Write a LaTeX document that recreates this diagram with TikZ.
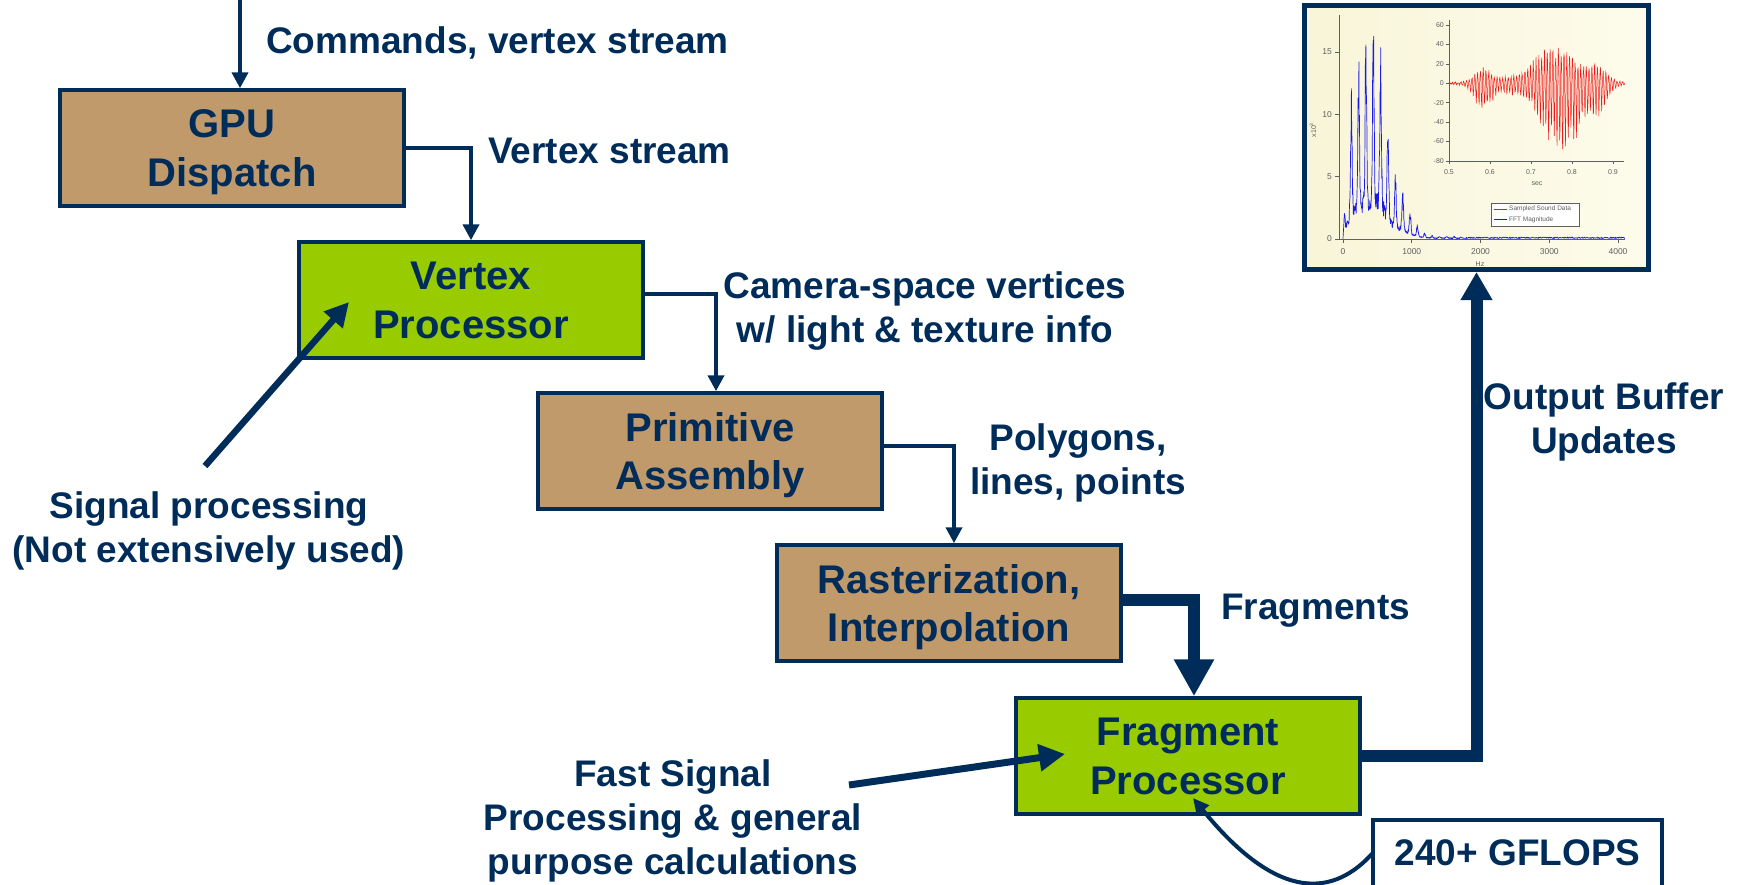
\documentclass[tikz,border=0pt]{standalone}
\usepackage{fontspec}
\setmainfont{Liberation Sans}
\usetikzlibrary{arrows.meta}
\definecolor{navy}{RGB}{0,44,90}
\definecolor{boxbrown}{RGB}{192,154,107}
\definecolor{boxgreen}{RGB}{153,204,0}
\definecolor{fftblue}{RGB}{25,25,235}
\definecolor{wavered}{RGB}{240,25,25}
\definecolor{axisgray}{RGB}{95,95,95}
\definecolor{plotbgA}{RGB}{248,245,216}
\definecolor{plotbgB}{RGB}{253,252,236}
\begin{document}
\begin{tikzpicture}[x=1pt,y=-1pt,
  declare function={
    mysq(\qx)=\qx*\qx;
    myex(\qx)=exp(-min(\qx,9));
    myenv(\qf)=1.2*(13.5*myex(mysq(mysq((\qf-330)/300)))+5*myex(mysq((\qf-700)/280))+0.15);
    myhc(\qf)=mysq(cos(1.68224*(\qf-12)));
    myfv(\qf)=(1-myex(\qf/30))*myenv(\qf)*(0.2+0.8*mysq(mysq(myhc(\qf))))*(0.6+0.4*rnd)+0.08*rnd;
    mygs(\qx,\qm,\qs)=myex(mysq((\qx-\qm)/\qs));
    mype(\qt)=17*mygs(\qt,0.585,0.03)+5*mygs(\qt,0.645,0.02)+40*mygs(\qt,0.76,0.075)+14*mygs(\qt,0.865,0.03)+1;
    myne(\qt)=30*mygs(\qt,0.585,0.03)+8*mygs(\qt,0.645,0.02)+72*mygs(\qt,0.775,0.075)+18*mygs(\qt,0.87,0.025)+1;
    mysw(\qp)=sin(360*frac(\qp));
    mywv(\qp)=ifthenelse(mysw(\qp)>0,mype(0.5+0.0068*\qp),myne(0.5+0.0068*\qp))*mysw(\qp)*(0.55+0.45*rnd)+1.2*rnd-0.6;
  },
  box/.style={draw=navy, line width=3.5pt, minimum width=344pt, minimum height=116pt,
    align=center, text=navy, font=\fontsize{40}{48.5}\selectfont\bfseries, inner sep=0pt,
    text depth=0pt},
  brownbox/.style={box, fill=boxbrown},
  greenbox/.style={box, fill=boxgreen},
  lbl/.style={text=navy, font=\fontsize{37}{44.4}\selectfont\bfseries, align=center, inner sep=0pt},
  conn/.style={draw=navy, line width=4pt, -{Triangle[width=16pt,length=16pt]}},
  fatconn/.style={draw=navy, line width=12pt, -{Triangle[width=38pt,length=37pt]}},
  outconn/.style={draw=navy, line width=12pt, -{Triangle[width=30pt,length=28pt]}},
  sigarrow/.style={draw=navy, line width=6.5pt, -{Triangle[width=24pt,length=24pt]}},
  fastarrow/.style={draw=navy, line width=7pt, -{Triangle[width=26pt,length=26pt]}},
  curvearrow/.style={draw=navy, line width=4pt, -{Triangle[width=15pt,length=16pt]}},
  axis/.style={draw=axisgray, line width=0.8pt},
  ticklbl/.style={text=axisgray, font=\fontsize{8.5}{10}\selectfont, inner sep=0pt},
  smalllbl/.style={text=axisgray, font=\fontsize{7}{8}\selectfont, inner sep=0pt},
]
\useasboundingbox (0,0) rectangle (1741,884);

% ---------------- plot picture ----------------
\node[draw=navy, line width=5pt, left color=plotbgA, right color=plotbgB,
      minimum width=344pt, minimum height=264pt, inner sep=0pt] (plot) at (1476.5,137.5) {};

% main FFT axes
\draw[axis] (1339,15) -- (1339,239) -- (1625,239);
\foreach \v in {0,5,10,15} {
  \draw[axis] (1335,{239-12.46*\v}) -- (1339,{239-12.46*\v});
  \node[ticklbl, anchor=east] at (1332,{239-12.46*\v}) {\v};
}
\foreach \k/\l in {0/0,1/1000,2/2000,3/3000,4/4000} {
  \draw[axis] ({1343+68.75*\k},239) -- ({1343+68.75*\k},243);
  \node[ticklbl] at ({1343+68.75*\k},252) {\l};
}
\node[smalllbl] (hz) at (1480,264) {Hz};
\node[smalllbl, rotate=90] (xten) at (1313,130) {x10\textsuperscript{3}};

\pgfmathsetseed{7}
\draw[fftblue, line width=0.7pt, line join=round]
  plot[domain=0:1700, samples=420, variable=\ff] ({1343+0.06875*\ff},{239-12.46*myfv(\ff)})
  -- plot[domain=1700:4100, samples=300, variable=\ff] ({1343+0.06875*\ff},{239-12.46*(0.04+0.12*rnd)});

% inset axes
\draw[axis] (1449,20) -- (1449,161) -- (1624,161);
\foreach \v in {60,40,20,0,-20,-40,-60,-80} {
  \draw[axis] (1446,{83.3-0.97*\v}) -- (1449,{83.3-0.97*\v});
  \node[smalllbl, anchor=east] at (1444,{83.3-0.97*\v}) {\v};
}
\foreach \t/\l in {0/0.5,1/0.6,2/0.7,3/0.8,4/0.9} {
  \draw[axis] ({1449+41*\t},161) -- ({1449+41*\t},164);
  \node[smalllbl] at ({1449+41*\t},172) {\l};
}
\node[smalllbl] (sec) at (1537,184) {sec};

\draw[wavered, line width=0.5pt]
  plot[domain=0:63, samples=560, variable=\pp] ({1449+2.788*\pp},{83.3-0.97*mywv(\pp)});

% legend
\node[draw=axisgray, fill=white, line width=0.5pt, minimum width=88pt, minimum height=23pt, inner sep=0pt] (leg) at (1535,214.5) {};
\draw[wavered, line width=0.8pt] (1494,209) -- (1507,209);
\draw[fftblue, line width=0.8pt] (1494,219.5) -- (1507,219.5);
\node[smalllbl, anchor=west, font=\fontsize{6.5}{7}\selectfont] (legA) at (1509,209) {Sampled Sound Data};
\node[smalllbl, anchor=west, font=\fontsize{6.5}{7}\selectfont] (legB) at (1509,219.5) {FFT Magnitude};

% ---------------- pipeline boxes ----------------
\node[brownbox] (gpu) at (232,148) {GPU\\Dispatch};
\node[greenbox] (vp) at (471,300) {Vertex\\Processor};
\node[brownbox] (pa) at (710,451) {Primitive\\Assembly};
\node[brownbox] (ra) at (949,603) {Rasterization,\\Interpolation};
\node[greenbox] (fp) at (1188,756) {Fragment\\Processor};

% labels
\node[lbl, anchor=west] (cmd) at (266,43) {Commands, vertex stream};
\node[lbl, anchor=west] (vs) at (488,150.5) {Vertex stream};
\node[lbl] (cam) at (925,311) {Camera-space vertices\\w/ light \& texture info};
\node[lbl] (poly) at (1078,463) {Polygons,\\lines, points};
\node[lbl, anchor=west] (frag) at (1221,611) {Fragments};
\node[lbl] (obu) at (1604,422) {Output Buffer\\Updates};
\node[lbl] (sig) at (209,531) {Signal processing\\(Not extensively used)};
\node[lbl] (fast) at (673,821) {Fast Signal\\Processing \& general\\purpose calculations};

% GFLOPS box
\node[lbl, minimum width=289pt, minimum height=66pt] (gf) at (1517.5,853) {240+ GFLOPS};
\coordinate (pagebottom) at (0,886);
\draw[navy, line width=4.5pt] (gf.west |- pagebottom) |- (gf.north east) -- (gf.east |- pagebottom);

% ---------------- connectors ----------------
\coordinate (in) at (240,0);
\draw[conn] (in) -- (in |- gpu.north);
\draw[conn] (gpu.east) -| (vp.north);
\draw[conn] ([yshift=6pt]vp.east) -| ([xshift=6pt]pa.north);
\draw[conn] ([yshift=5pt]pa.east) -| ([xshift=5pt]ra.north);
\draw[fatconn] ([yshift=3pt]ra.east) -| ([xshift=6pt]fp.north);
\draw[outconn] (fp.east) -| (plot.south);

\coordinate (sigtail) at (205,466);
\coordinate (sighead) at (349,302);
\draw[sigarrow] (sigtail) -- (sighead);

\coordinate (fasttail) at (849,785);
\coordinate (fasthead) at (1065,754);
\draw[fastarrow] (fasttail) -- (fasthead);

\coordinate (gfhead) at (1193,798);
\draw[curvearrow] (gf.west) .. controls (1335,895) and (1280,905) .. (gfhead);

\end{tikzpicture}
\end{document}
